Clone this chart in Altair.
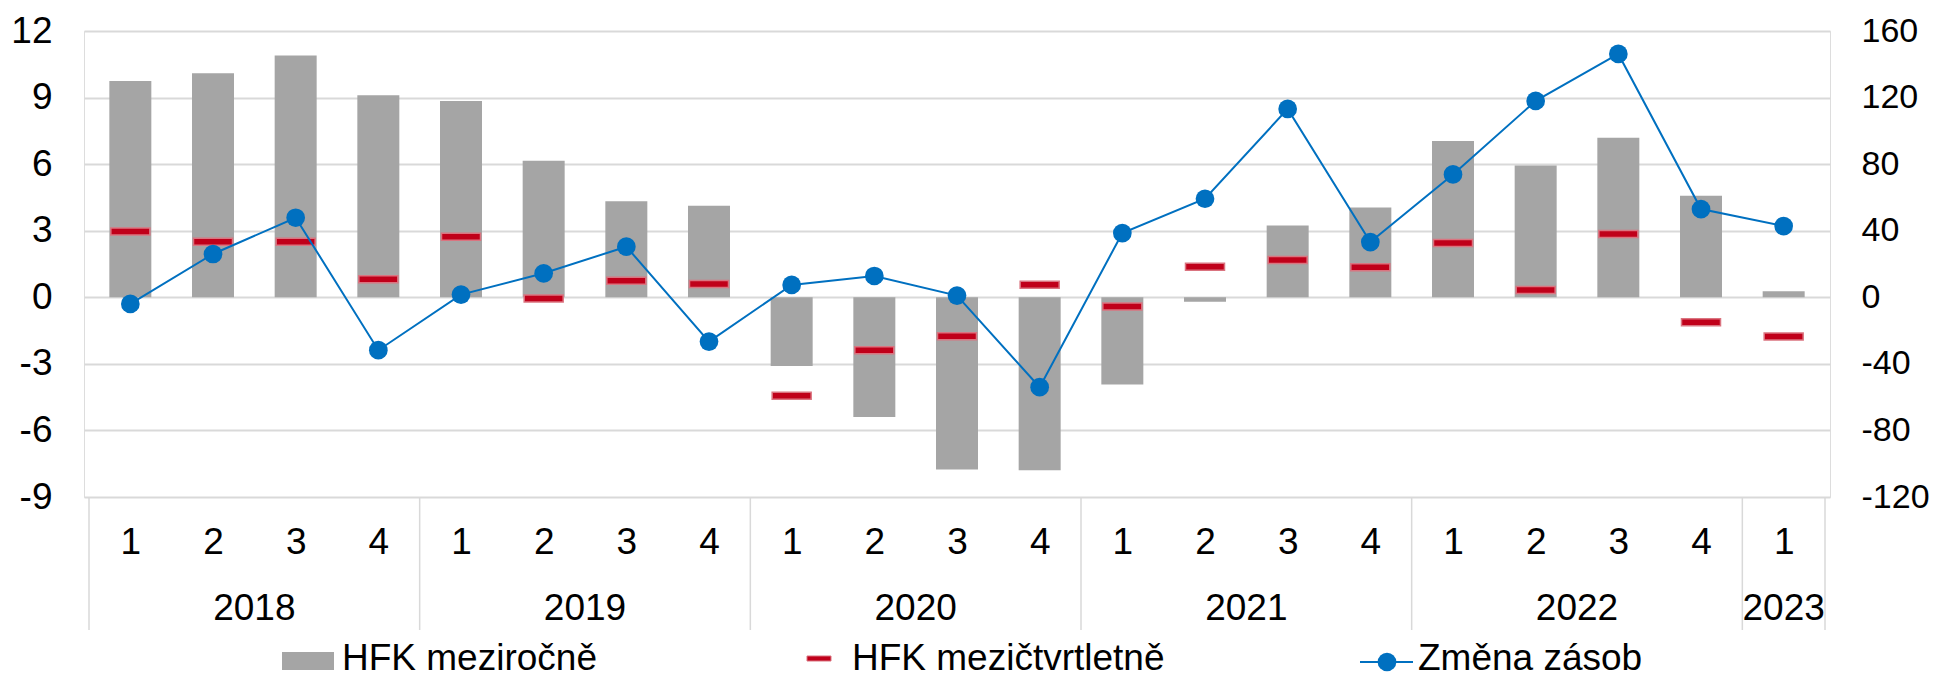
import json
import altair as alt
import pandas as pd

# ---- data ----
years = ["2018"] * 4 + ["2019"] * 4 + ["2020"] * 4 + ["2021"] * 4 + ["2022"] * 4 + ["2023"]
quarters = ["1", "2", "3", "4"] * 5 + ["1"]
hfk_yoy = [9.75, 10.1, 10.9, 9.1, 8.85, 6.15, 4.33, 4.12,
           -3.1, -5.4, -7.76, -7.79, -3.93, -0.2, 3.23, 4.05,
           7.04, 5.94, 7.19, 4.58, 0.27]
hfk_qoq = [2.97, 2.5, 2.5, 0.81, 2.73, -0.05, 0.75, 0.6,
           -4.44, -2.39, -1.76, 0.57, -0.42, 1.38, 1.68, 1.35,
           2.45, 0.33, 2.85, -1.13, -1.77]
zmena_zasob = [-4, 26, 47.8, -31.8, 1.6, 14.4, 30.4, -26.6,
               7.4, 12.8, 1, -54, 38.6, 59.2, 113.2, 33.2,
               73.8, 118, 146.2, 53, 42.8]
legend_labels = ["HFK meziročně", "HFK mezičtvrtletně", "Změna zásob"]
left_ticks = [-9, -6, -3, 0, 3, 6, 9, 12]
right_ticks = [-120, -80, -40, 0, 40, 80, 120, 160]

df = pd.DataFrame({
    "idx": list(range(len(quarters))),
    "year": years,
    "quarter": quarters,
    "hfk_yoy": hfk_yoy,
    "hfk_qoq": hfk_qoq,
    "zasoby": zmena_zasob,
})

# year groups (derived from the lists above)
g = df.groupby("year", sort=False)["idx"].agg(["min", "max"]).reset_index()
g["center"] = (g["min"] + g["max"]) / 2
year_df = g[["year", "center"]]
seps = sorted(set((g["min"] - 0.5).tolist() + (g["max"] + 0.5).tolist()))
sep_df = pd.DataFrame({"sep": seps})

FONT = "Liberation Sans"
FS = 37
W, H = 1746, 466
GRID = "#D9D9D9"
BLUE = "#0070C0"

xscale = alt.Scale(domain=[-0.5, len(quarters) - 0.5], nice=False, zero=False)
xaxis = alt.Axis(
    values=list(range(len(quarters))),
    labelExpr=json.dumps(quarters) + "[datum.value]",
    title=None, domain=False, ticks=False, grid=False,
    labelFontSize=FS, labelFont=FONT, labelColor="black",
    labelPadding=27, labelOverlap=False, labelFlush=False,
)
X = alt.X("idx:Q", scale=xscale, axis=xaxis)

base = alt.Chart(df)

bars = base.mark_bar(size=42, color="#A5A5A5").encode(
    x=X,
    y=alt.Y("hfk_yoy:Q",
            scale=alt.Scale(domain=[-9, 12], nice=False, zero=True),
            axis=alt.Axis(values=left_ticks, title=None, orient="left",
                          labelExpr="toString(datum.value)",
                          domain=False, ticks=False, grid=True,
                          gridColor=GRID, gridWidth=2,
                          labelFontSize=FS, labelFont=FONT, labelColor="black",
                          labelPadding=32, labelFlush=False)),
)
dashes = base.mark_tick(orient="horizontal", size=39, thickness=7,
                        color="#C0001A", stroke="#DA7480", strokeWidth=1.5,
                        opacity=1).encode(
    x=X,
    y=alt.Y("hfk_qoq:Q"),
)
left = alt.layer(bars, dashes)

Yr = alt.Y("zasoby:Q",
           scale=alt.Scale(domain=[-120, 160], nice=False, zero=False),
           axis=alt.Axis(values=right_ticks, title=None, orient="right",
                         labelExpr="toString(datum.value)",
                         domain=False, ticks=False, grid=False,
                         labelFontSize=34, labelFont=FONT, labelColor="black",
                         labelPadding=31, labelFlush=False))
line = base.mark_line(color=BLUE, strokeWidth=2).encode(x=X, y=Yr)
dots = base.mark_circle(size=350, color=BLUE, opacity=1).encode(x=X, y=Yr)
right = alt.layer(line, dots)

# x-axis year separators and year labels
sep_rules = alt.Chart(sep_df).mark_rule(color=GRID, strokeWidth=1.5).encode(
    x=alt.X("sep:Q", scale=xscale),
    y=alt.value(H),
    y2=alt.value(H + 133),
)
year_text = alt.Chart(year_df).mark_text(
    font=FONT, fontSize=FS, color="black", align="center", baseline="alphabetic"
).encode(
    x=alt.X("center:Q", scale=xscale),
    y=alt.value(H + 123),
    text="year:N",
)

# manual legend
one = pd.DataFrame({"k": [0]})
LY = 639  # text baseline relative to plot top
leg_rect = alt.Chart(one).mark_rect(color="#A5A5A5").encode(
    x=alt.value(198), x2=alt.value(250), y=alt.value(LY - 18), y2=alt.value(LY))
leg_dash = alt.Chart(one).mark_rect(color="#C0001A", stroke="#DA7480", strokeWidth=1).encode(
    x=alt.value(723), x2=alt.value(747), y=alt.value(LY - 14), y2=alt.value(LY - 9))
leg_line = alt.Chart(one).mark_rule(color=BLUE, strokeWidth=2).encode(
    x=alt.value(1276), x2=alt.value(1329), y=alt.value(LY - 8))
leg_dot = alt.Chart(one).mark_circle(size=350, color=BLUE, opacity=1).encode(
    x=alt.value(1303), y=alt.value(LY - 8))
leg_x = [258, 768, 1334]
leg_texts = [
    alt.Chart(pd.DataFrame({"label": [lab]})).mark_text(
        font=FONT, fontSize=FS, color="black", align="left", baseline="alphabetic"
    ).encode(x=alt.value(px), y=alt.value(LY), text="label:N")
    for lab, px in zip(legend_labels, leg_x)
]

chart = alt.layer(
    left, right, sep_rules, year_text,
    leg_rect, leg_dash, leg_line, leg_dot, *leg_texts
).resolve_scale(y="independent").properties(
    width=W, height=H,
    autosize=alt.AutoSizeParams(type="none"),
    padding={"left": 76, "top": 23, "right": 101, "bottom": 180},
).configure_view(strokeWidth=0).configure(background="white")

chart.save("out.html", embed_options={"renderer": "svg", "actions": False})
